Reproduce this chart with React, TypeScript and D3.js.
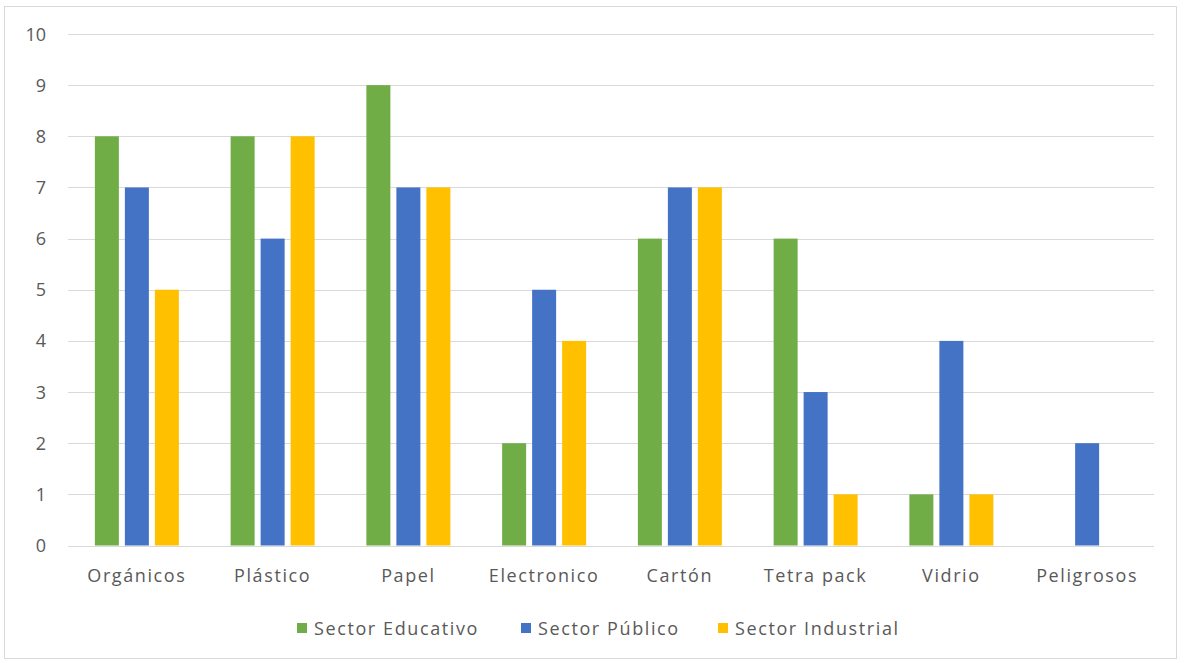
import * as d3 from "d3";
import { useEffect, useRef } from "react";

const categories = ["Orgánicos", "Plástico", "Papel", "Electronico", "Cartón", "Tetra pack", "Vidrio", "Peligrosos"];
const seriesNames = ["Sector Educativo", "Sector Público", "Sector Industrial"];
const educativo = [8, 8, 9, 2, 6, 6, 1, 0];
const publico = [7, 6, 7, 5, 7, 3, 4, 2];
const industrial = [5, 8, 7, 4, 7, 1, 1, 0];
const yTicks = [0, 1, 2, 3, 4, 5, 6, 7, 8, 9, 10];
const colors = ["#70AD47", "#4472C4", "#FFC000"];

function drawChart(container: HTMLElement) {
  const width = 1184;
  const height = 663;
  const font = "'Open Sans', sans-serif";

  const svg = d3.select(container)
    .append("svg")
    .attr("width", width)
    .attr("height", height)
    .style("display", "block");

  svg.append("rect")
    .attr("width", width).attr("height", height).attr("fill", "#fff");

  // chart frame
  svg.append("rect")
    .attr("x", 4.5).attr("y", 6.5)
    .attr("width", 1172).attr("height", 652)
    .attr("fill", "#fff")
    .attr("stroke", "#d9d9d9");

  const y = d3.scaleLinear([0, 10], [545.5, 34]);
  const x0 = d3.scaleBand(categories, [69, 1155]);
  const x1 = d3.scaleBand(seriesNames, [-42, 42]).paddingInner(0.2);

  // gridlines
  svg.append("g")
    .selectAll("line")
    .data(yTicks)
    .join("line")
    .attr("x1", 68).attr("x2", 1154)
    .attr("y1", d => Math.round(y(d)) + 0.5)
    .attr("y2", d => Math.round(y(d)) + 0.5)
    .attr("stroke", "#d9d9d9");

  // y tick labels
  svg.append("g")
    .selectAll("text")
    .data(yTicks)
    .join("text")
    .attr("x", 46)
    .attr("y", d => y(d) + 6.5)
    .attr("text-anchor", "end")
    .attr("font-family", font)
    .attr("font-size", 18)
    .attr("fill", "#595959")
    .text(d => d);

  // bars
  const allSeries = [educativo, publico, industrial];
  const groups = svg.append("g")
    .selectAll("g")
    .data(categories)
    .join("g")
    .attr("transform", c => `translate(${x0(c)! + x0.bandwidth() / 2},0)`);

  groups.selectAll("rect")
    .data((_, i) => allSeries.map((s, j) => ({ name: seriesNames[j], value: s[i], color: colors[j] })))
    .join("rect")
    .attr("x", d => x1(d.name)!)
    .attr("width", x1.bandwidth())
    .attr("y", d => y(d.value))
    .attr("height", d => y(0) - y(d.value))
    .attr("fill", d => d.color);

  // category labels
  svg.append("g")
    .selectAll("text")
    .data(categories)
    .join("text")
    .attr("x", c => x0(c)! + x0.bandwidth() / 2)
    .attr("y", 582)
    .attr("text-anchor", "middle")
    .attr("font-family", font)
    .attr("font-size", 18)
    .attr("letter-spacing", 1.6)
    .attr("fill", "#595959")
    .text(c => c);

  // legend
  const legendX = [297, 521, 718];
  const legend = svg.append("g")
    .selectAll("g")
    .data(seriesNames)
    .join("g")
    .attr("transform", (_, i) => `translate(${legendX[i]},623)`);
  legend.append("rect")
    .attr("width", 10).attr("height", 10)
    .attr("fill", (_, i) => colors[i]);
  legend.append("text")
    .attr("x", 17).attr("y", 11.5)
    .attr("font-family", font)
    .attr("font-size", 18)
    .attr("letter-spacing", 1.6)
    .attr("fill", "#595959")
    .text(d => d);
}

export default function App() {
  const domRef = useRef<HTMLDivElement>(null);
  useEffect(() => {
    if (domRef.current) {
      drawChart(domRef.current);
    }
    return () => {
      if (domRef.current) {
        d3.select(domRef.current).selectAll("svg").remove();
      }
    };
  }, []);
  return <div ref={domRef} style={{ position: "absolute", left: 0, top: 0 }}></div>;
}
